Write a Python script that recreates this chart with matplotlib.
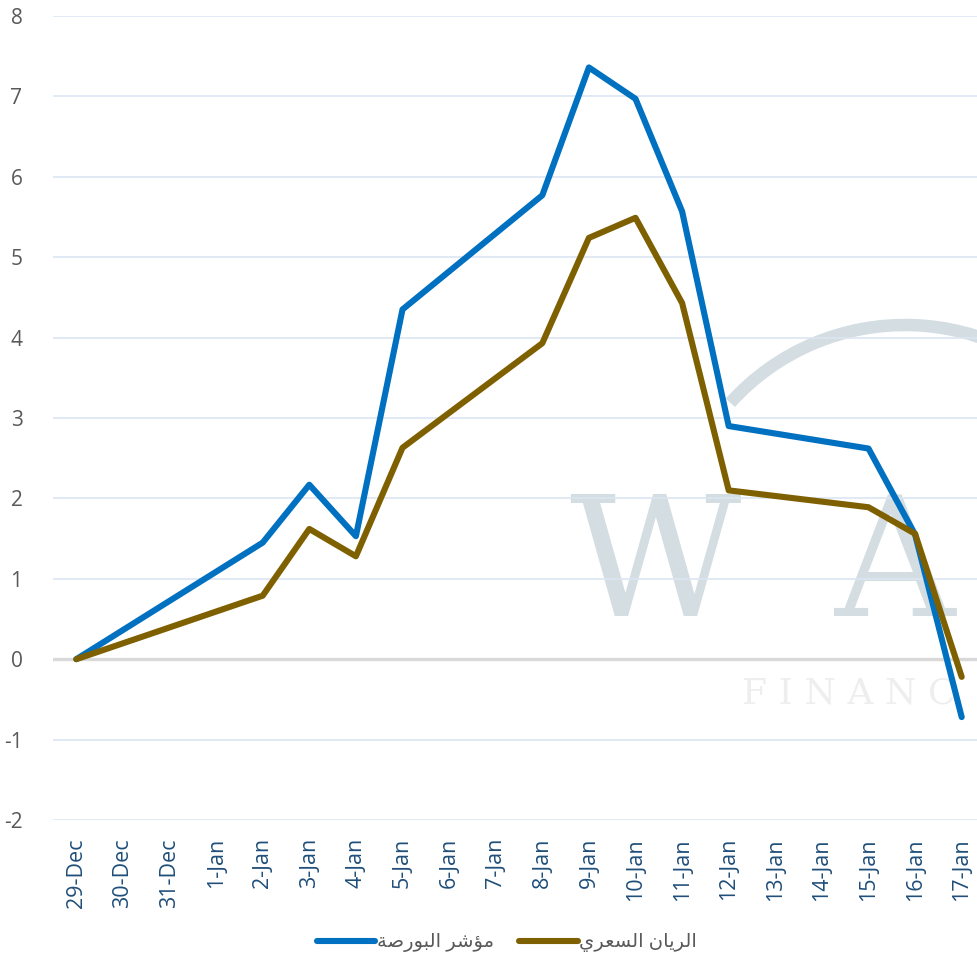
import unicodedata
import numpy as np
import matplotlib
matplotlib.use('Agg')
import matplotlib.pyplot as plt
from matplotlib.patches import Arc

plt.rcParams['font.family'] = ['Open Sans', 'DejaVu Sans']
plt.rcParams['axes.unicode_minus'] = False

# data (gaps = no trading day, the line just connects over them)
dates = ['29-Dec', '30-Dec', '31-Dec', '1-Jan', '2-Jan', '3-Jan', '4-Jan', '5-Jan',
         '6-Jan', '7-Jan', '8-Jan', '9-Jan', '10-Jan', '11-Jan', '12-Jan', '13-Jan',
         '14-Jan', '15-Jan', '16-Jan', '17-Jan']
bourse_index = [0, None, None, None, 1.45, 2.17, 1.53, 4.35, None, None, 5.77,
                7.36, 6.97, 5.57, 2.90, None, None, 2.62, 1.55, -0.72]
rayan_price = [0, None, None, None, 0.79, 1.62, 1.28, 2.63, None, None, 3.93,
               5.24, 5.49, 4.43, 2.10, None, None, 1.89, 1.56, -0.22]
series_names = ['مؤشر البورصة', 'الريان السعري']
yticks = list(range(-2, 9))

RIGHT_ONLY = set('اأإآءؤةدذرزو')


def shape_arabic(text):
    """turn logical arabic text into visual order presentation forms"""
    out = []
    for i, ch in enumerate(text):
        if ch == ' ':
            out.append(ch)
            continue
        prev = text[i - 1] if i > 0 else ' '
        nxt = text[i + 1] if i + 1 < len(text) else ' '
        join_prev = prev != ' ' and prev not in RIGHT_ONLY
        join_next = nxt != ' ' and ch not in RIGHT_ONLY
        form = {(False, False): 'ISOLATED', (True, False): 'FINAL',
                (False, True): 'INITIAL', (True, True): 'MEDIAL'}[(join_prev, join_next)]
        try:
            out.append(unicodedata.lookup(unicodedata.name(ch) + ' ' + form + ' FORM'))
        except KeyError:
            out.append(ch)
    return ''.join(reversed(out))


W, H = 977, 959
fig = plt.figure(figsize=(W / 100, H / 100), dpi=100)

# watermark layer in pixel coords (y goes down)
bg = fig.add_axes([0, 0, 1, 1], zorder=0)
bg.set_xlim(0, W)
bg.set_ylim(H, 0)
bg.axis('off')
wm = '#d3dde2'
bg.text(655, 570, 'W', fontsize=120, family='DejaVu Serif', color=wm,
        ha='center', va='center')
bg.text(895, 570, 'A', fontsize=120, family='DejaVu Serif', color=wm,
        ha='center', va='center')
bg.text(742, 693, 'F I N A N C', fontsize=26, family='DejaVu Serif', color='#eeeeee',
        ha='left', va='center')
bg.add_patch(Arc((905, 560), 470, 470, theta1=222, theta2=322, color=wm, lw=9))

left = 53 / W
right = 985 / W
bottom = 1 - 820 / H
top = 1 - 16 / H
ax = fig.add_axes([left, bottom, right - left, top - bottom], zorder=1)
ax.patch.set_visible(False)

x = np.arange(len(dates))
colors = ['#0070C0', '#7F6000']
for vals, name, c in zip([bourse_index, rayan_price], series_names, colors):
    y = np.array([np.nan if v is None else v for v in vals], dtype=float)
    m = ~np.isnan(y)
    ax.plot(x[m], y[m], color=c, lw=4.4, solid_capstyle='round',
            solid_joinstyle='round', label=shape_arabic(name), zorder=3)

ax.set_xlim(-0.5, len(dates) - 0.5)
ax.set_ylim(-2, 8)
ax.set_yticks(yticks)
ax.set_xticks(x)
ax.set_xticklabels(dates, rotation=90, color='#1F4E79', fontsize=15.5)
ax.tick_params(axis='x', length=0, pad=13)
ax.tick_params(axis='y', length=0, pad=22, labelcolor='#595959', labelsize=15)
for lab in ax.get_yticklabels():
    lab.set_horizontalalignment('right')

for t in yticks:
    if t == 0:
        ax.axhline(0, color='#D9D9D9', lw=2.4, zorder=2)
    else:
        ax.axhline(t, color='#DCE6F2', lw=1.2, zorder=1)
for s in ax.spines.values():
    s.set_visible(False)

fig.legend(loc='center', bbox_to_anchor=(507 / W, 1 - 943 / H), ncol=2,
           frameon=False, fontsize=14, handlelength=3.0, handletextpad=0.1,
           columnspacing=1.3, labelcolor='#595959')

fig.savefig('out.png', dpi=100)
